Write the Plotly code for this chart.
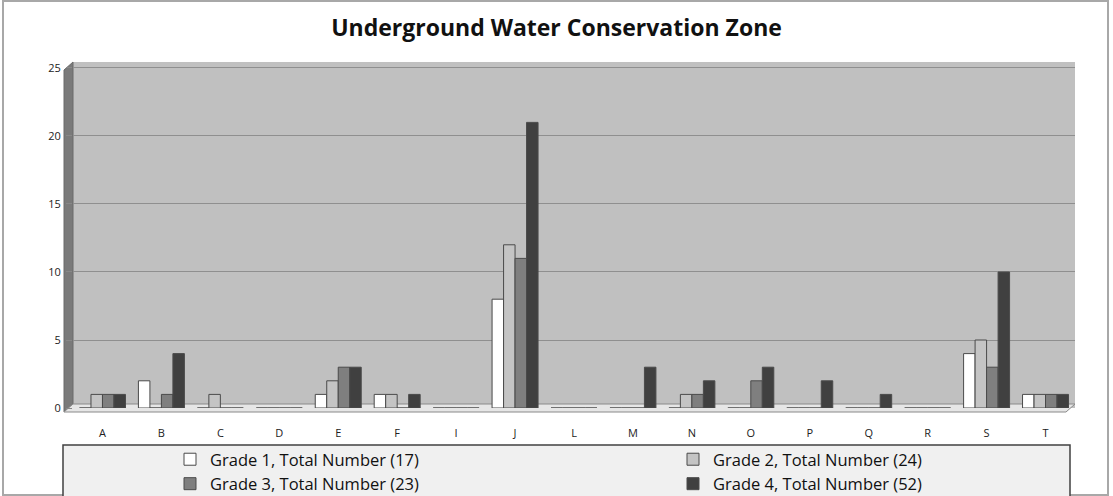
import plotly.graph_objects as go

categories = ["A", "B", "C", "D", "E", "F", "I", "J", "L", "M", "N", "O", "P", "Q", "R", "S", "T"]
grade1 = [0, 2, 0, 0, 1, 1, 0, 8, 0, 0, 0, 0, 0, 0, 0, 4, 1]
grade2 = [1, 0, 1, 0, 2, 1, 0, 12, 0, 0, 1, 0, 0, 0, 0, 5, 1]
grade3 = [1, 1, 0, 0, 3, 0, 0, 11, 0, 0, 1, 2, 0, 0, 0, 3, 1]
grade4 = [1, 4, 0, 0, 3, 1, 0, 21, 0, 3, 2, 3, 2, 1, 0, 10, 1]
series_names = ["Grade 1, Total Number (17)", "Grade 2, Total Number (24)",
                "Grade 3, Total Number (23)", "Grade 4, Total Number (52)"]
series_colors = ["#ffffff", "#c4c4c4", "#7f7f7f", "#404040"]
legend_ids = ["legend", "legend2", "legend", "legend2"]
y_ticks = [0, 5, 10, 15, 20, 25]

W, H = 1113, 496
L, R, T, B = 73, 38, 62, 88
pw, ph = W - L - R, H - T - B

def px(x):
    return (x - L) / pw

def py(y):
    return (H - B - y) / ph

fig = go.Figure()
for name, vals, col, lg in zip(series_names, [grade1, grade2, grade3, grade4], series_colors, legend_ids):
    fig.add_trace(go.Bar(x=categories, y=vals, name=name, legend=lg,
                         marker=dict(color=col, line=dict(color="#4a4a4a", width=1))))

shapes = []
# outer border
shapes.append(dict(type="rect", xref="paper", yref="paper",
                   x0=px(3), x1=px(1108), y0=py(495), y1=py(1),
                   line=dict(color="#a8a8a8", width=2), fillcolor="rgba(0,0,0,0)", layer="below"))
# left wall
shapes.append(dict(type="path", xref="paper", yref="paper",
                   path=f"M {px(64)} {py(70)} L {px(73)} {py(62)} L {px(73)} {py(404)} L {px(64)} {py(412)} Z",
                   fillcolor="#7a7a7a", line=dict(color="#6a6a6a", width=1), layer="below"))
# floor
shapes.append(dict(type="path", xref="paper", yref="paper",
                   path=f"M {px(64)} {py(412)} L {px(73)} {py(404)} L {px(1075)} {py(404)} L {px(1066)} {py(412)} Z",
                   fillcolor="#e6e6e6", line=dict(color="#8a8a8a", width=1), layer="below"))
# legend box
shapes.append(dict(type="rect", xref="paper", yref="paper",
                   x0=px(63), x1=px(1070), y0=py(497), y1=py(445),
                   fillcolor="#f0f0f0", line=dict(color="#404040", width=1.5), layer="below"))

legend_common = dict(orientation="v", yanchor="top", xanchor="left", bgcolor="rgba(0,0,0,0)",
                     font=dict(family="Open Sans", size=16.5, color="#111"),
                     itemwidth=30, tracegroupgap=0)

fig.update_layout(
    width=W, height=H,
    margin=dict(l=L, r=R, t=T, b=B, autoexpand=False),
    paper_bgcolor="white",
    plot_bgcolor="#c0c0c0",
    barmode="group", bargap=0.22, bargroupgap=0.0,
    title=dict(text="<b>Underground Water Conservation Zone</b>", x=0.5, xanchor="center",
               y=1 - 28 / H, yanchor="middle",
               font=dict(family="Open Sans", size=23, color="#111")),
    xaxis=dict(showgrid=False, showline=False, ticks="", tickfont=dict(family="Open Sans", size=11, color="#222"),
               ticklabelstandoff=17, zeroline=False),
    yaxis=dict(range=[0, 25.44], tickvals=y_ticks, showgrid=True, gridcolor="#8f8f8f", gridwidth=1,
               ticks="outside", ticklen=6, tickcolor="#888", zeroline=False, showline=False,
               tickfont=dict(family="Open Sans", size=11, color="#222"), ticklabelstandoff=3),
    legend=dict(x=px(170), y=py(442), **legend_common),
    legend2=dict(x=px(673), y=py(442), **legend_common),
    shapes=shapes,
)

fig.write_html("out.html")
